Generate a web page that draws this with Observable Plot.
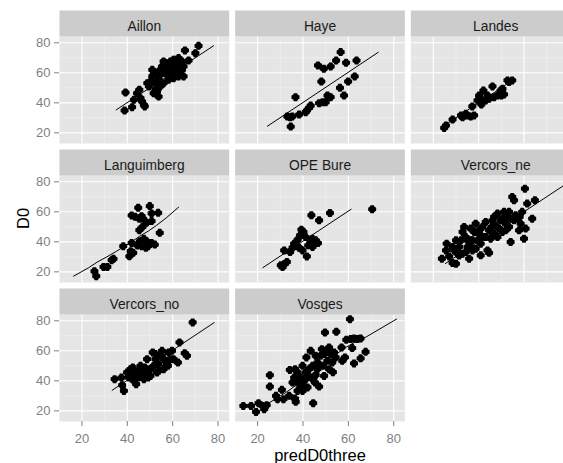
<!DOCTYPE html>
<html><head><meta charset="utf-8">
<script src="https://cdn.jsdelivr.net/npm/d3@7"></script>
<script src="https://cdn.jsdelivr.net/npm/@observablehq/plot@0.6"></script>
<style>
html,body{margin:0;padding:0;background:#fff;overflow:hidden;}
#chart svg{max-width:none !important;}
</style></head><body><div id="chart"></div>
<script>
const sites = ["Aillon","Haye","Landes","Languimberg","OPE Bure","Vercors_ne","Vercors_no","Vosges"];

const aillon = [[38.8,34.9],[42.1,37.1],[39.2,46.9],[45.3,48.7],[45.8,43.1],[47.3,38.7],[46.5,40.9],[47.7,37.6],[49.5,50.9],[51.0,62.0],[51.6,58.7],[52.4,48.7],[53.1,53.1],[53.8,56.4],[55.3,59.8],[56.8,66.4],[57.5,62.0],[56.0,53.1],[58.2,57.6],[59.0,67.6],[59.7,64.2],[60.4,68.7],[61.1,60.9],[61.9,66.4],[62.6,63.1],[63.4,58.7],[64.1,67.6],[64.8,64.2],[62.6,57.6],[60.4,56.4],[58.2,55.3],[54.5,50.9],[51.6,46.4],[53.1,47.6],[48.8,53.1],[50.2,54.2],[56.8,59.8],[55.3,64.2],[58.2,63.1],[59.7,58.7],[61.1,68.7],[65.4,74.9],[67.0,68.2],[70.0,73.1],[71.4,78.0],[44.3,46.4],[51.0,57.6],[53.8,60.9],[56.0,67.6],[62.6,69.8],[64.1,62.0],[64.8,57.6],[52.4,53.1],[53.8,44.2],[42.9,42.0]];
const haye = [[34.6,24.2],[33.1,30.9],[35.3,30.9],[36.7,43.8],[38.3,32.2],[41.2,33.8],[42.7,36.7],[43.4,38.2],[47.1,39.8],[48.6,40.4],[50.0,40.4],[50.8,44.9],[52.2,43.8],[48.1,54.2],[46.6,64.9],[49.2,62.7],[52.2,64.2],[54.6,68.2],[56.6,73.8],[59.0,66.7],[63.6,68.2],[59.9,54.2],[62.8,57.6],[56.3,50.0],[58.1,44.9],[34.3,30.4],[41.7,34.9]];
const landes = [[24.8,23.3],[25.6,24.9],[28.5,28.9],[32.9,30.4],[33.6,31.6],[35.1,31.6],[36.5,30.9],[38.0,31.6],[34.3,32.7],[37.2,37.6],[39.5,41.6],[40.2,44.9],[41.2,38.9],[42.1,48.2],[43.1,41.6],[43.9,44.9],[46.1,50.9],[46.8,43.8],[48.3,44.9],[49.7,48.2],[50.0,44.9],[51.2,45.6],[52.7,54.9],[53.4,53.8],[54.8,54.9],[50.5,49.3],[44.6,42.7],[32.2,31.6],[41.7,41.6]];
const languimberg = [[25.5,20.4],[26.3,17.1],[29.5,23.3],[31.2,23.3],[33.1,27.8],[33.9,28.7],[38.2,37.1],[40.9,30.4],[41.5,33.8],[42.6,32.7],[41.9,39.3],[41.9,57.6],[43.4,56.7],[44.8,62.7],[44.4,37.6],[45.5,40.4],[46.3,37.1],[47.3,42.0],[48.5,40.4],[48.2,36.0],[45.3,47.8],[46.7,50.0],[48.5,52.7],[47.0,55.3],[46.3,57.1],[49.9,63.8],[50.7,58.9],[50.7,53.8],[52.1,38.2],[53.6,59.3],[54.3,46.0],[45.3,55.3],[49.2,37.1],[50.7,39.3]];
const opeBure = [[31.0,23.2],[31.7,25.0],[32.9,26.6],[31.7,34.3],[35.4,36.1],[36.8,37.0],[37.6,41.4],[38.3,36.1],[39.3,48.1],[40.2,46.6],[41.2,43.2],[41.7,30.3],[42.3,37.7],[43.4,39.9],[44.2,36.6],[45.6,41.0],[46.6,39.2],[43.7,57.7],[47.1,54.3],[51.9,59.2],[70.5,61.7],[38.7,44.3],[36.1,38.8],[34.3,33.2],[39.8,34.3],[44.2,42.1],[30.2,24.4]];
const vercorsNe = [[23.8,28.8],[25.6,34.3],[25.9,38.8],[27.0,30.3],[28.5,25.9],[30.0,25.4],[29.2,34.3],[30.7,32.1],[31.4,36.6],[32.2,41.0],[32.9,46.6],[33.6,49.9],[34.3,43.2],[35.1,36.6],[35.8,28.8],[36.5,48.8],[36.5,41.0],[37.3,34.3],[38.0,46.6],[38.7,52.1],[39.5,41.0],[40.2,45.5],[40.9,38.8],[41.7,49.9],[42.4,43.2],[43.1,53.2],[43.9,34.3],[44.6,47.7],[45.3,42.1],[46.1,54.3],[46.8,45.5],[47.5,50.9],[48.3,58.8],[49.0,48.8],[49.7,54.3],[50.5,46.6],[51.2,60.0],[51.9,52.1],[52.6,56.6],[53.4,49.9],[54.1,39.9],[54.8,69.9],[55.6,67.7],[55.6,54.3],[56.3,57.7],[57.8,47.7],[58.5,52.1],[59.2,60.0],[60.0,42.1],[60.4,75.4],[60.7,48.8],[61.4,65.5],[63.6,55.4],[64.8,67.7],[30.0,41.0],[32.9,32.1],[38.7,35.4],[40.9,31.0],[44.6,32.7],[34.3,33.2],[43.1,43.2],[37.3,41.0],[48.3,43.2],[54.1,55.4],[41.7,43.2],[35.1,41.0],[46.8,56.6],[50.5,55.4],[31.4,30.9],[28.5,36.6],[36.5,36.6],[40.2,47.7],[45.8,49.9],[51.9,47.7],[53.4,60.0],[58.1,56.6]];
const vercorsNo = [[34.4,41.1],[37.7,37.1],[38.5,33.3],[37.4,42.2],[39.9,45.6],[41.4,47.8],[42.1,43.3],[42.9,40.0],[43.9,37.8],[44.8,42.2],[45.1,46.7],[46.5,44.4],[47.7,48.9],[48.7,54.4],[49.2,42.2],[50.2,47.8],[51.2,58.9],[51.6,50.0],[52.4,54.4],[53.1,45.6],[53.8,51.1],[55.0,56.7],[55.3,60.0],[56.0,47.8],[56.8,53.3],[57.9,50.0],[58.2,58.9],[59.7,60.0],[59.0,54.4],[62.3,52.2],[63.0,65.6],[65.3,58.4],[66.3,56.7],[68.8,78.9],[45.8,50.0],[47.3,41.1],[50.2,43.3],[53.8,46.7],[55.3,55.6],[42.4,48.9],[44.3,45.6],[40.7,42.2],[57.5,51.1],[52.4,57.8],[48.0,45.6],[60.4,54.4]];
const vosges = [[13.7,23.3],[17.1,23.3],[19.3,19.3],[20.4,25.1],[22.2,23.3],[22.9,21.1],[24.0,23.8],[25.4,43.8],[25.4,36.2],[28.1,30.0],[28.8,27.8],[30.7,34.0],[31.4,27.8],[33.9,30.0],[34.2,47.3],[36.5,28.2],[36.8,26.0],[36.1,42.2],[37.6,45.6],[38.3,38.9],[39.0,35.6],[39.8,41.1],[40.5,36.7],[42.0,35.6],[41.2,45.6],[42.7,47.8],[43.4,60.0],[44.5,25.1],[45.3,38.9],[45.6,43.8],[46.4,47.8],[46.4,52.2],[47.1,36.2],[47.8,56.7],[48.8,50.0],[49.3,43.3],[50.0,60.0],[49.7,72.2],[50.7,53.3],[51.5,47.8],[52.2,57.8],[52.9,52.2],[53.2,45.8],[53.7,58.9],[54.4,55.6],[54.7,72.7],[57.0,62.2],[57.3,53.3],[58.5,55.6],[59.1,67.3],[60.7,81.1],[61.0,67.8],[62.5,68.2],[63.9,67.8],[65.4,68.2],[61.7,61.8],[62.5,51.6],[65.4,55.0],[67.6,59.3],[41.5,55.6],[39.8,50.0],[37.6,38.9],[35.4,38.9],[36.5,47.8],[44.2,50.0],[45.6,56.7],[49.3,57.8],[41.2,41.1],[44.2,41.1],[37.6,33.3],[39.8,33.3],[48.3,61.1],[51.5,62.2],[39.0,42.2],[42.4,43.3]];

const aillonLine = [[35.1,35.3],[78.0,78.0]];
const hayeLine = [[24.3,24.4],[73.2,73.7]];
const landesLine = [[24.4,24.4],[55.2,55.2]];
const languimbergLine = [[16.3,17.1],[22.9,22.7],[26.6,26.4],[31.0,30.0],[35.3,33.8],[41.2,39.3],[45.5,43.8],[49.2,47.1],[52.8,50.9],[57.2,56.0],[62.6,63.1]];
const opeBureLine = [[22.3,22.8],[61.2,61.7]];
const vercorsNeLine = [[25.3,25.5],[80.0,80.0]];
const vercorsNoLine = [[33.3,33.7],[78.3,78.8]];
const vosgesLine = [[22.9,23.3],[32.4,32.2],[39.8,40.0],[45.6,46.7],[51.5,54.4],[58.8,62.2],[64.7,67.3],[67.8,69.2],[81.2,81.1]];

const xTicks = [20,40,60,80];
const xMinor = [30,50,70];
const yTicks = [20,40,60,80];
const yMinor = [30,50,70];

const pointSets = [aillon, haye, landes, languimberg, opeBure, vercorsNe, vercorsNo, vosges];
const lineSets = [aillonLine, hayeLine, landesLine, languimbergLine, opeBureLine, vercorsNeLine, vercorsNoLine, vosgesLine];

const toRows = (sets) => sets.flatMap((arr, i) => arr.map(([x, y]) => ({site: sites[i], col: i % 3, row: Math.floor(i / 3), x, y})));
const points = toRows(pointSets);
const lines = toRows(lineSets);
const strips = sites.map((s, i) => ({site: s, col: i % 3, row: Math.floor(i / 3)}));

// x axis only under the panels of the last row
const lastRow = Math.floor((sites.length - 1) / 3);
const bottomCols = strips.filter(d => d.row === lastRow).map(d => d.col);
const xAxisTicks = bottomCols.flatMap(col => xTicks.map(t => ({col, row: lastRow, x: t})));

// filled blob symbol similar to R's low-res filled circle
const blob = {
  draw(ctx, size) {
    const s = Math.sqrt(size / Math.PI) / 4;
    const p = [[-1.6,-4],[1.6,-4],[2.4,-2.4],[4,-1.6],[4,1.6],[2.4,2.4],[1.6,4],[-1.6,4],[-2.4,2.4],[-4,1.6],[-4,-1.6],[-2.4,-2.4]];
    ctx.moveTo(p[0][0] * s, p[0][1] * s);
    for (let k = 1; k < p.length; k++) ctx.lineTo(p[k][0] * s, p[k][1] * s);
    ctx.closePath();
  }
};

const font = "'Liberation Sans', Arial, Helvetica, sans-serif";

const chart = Plot.plot({
  width: 580,
  height: 463,
  marginLeft: 59,
  marginRight: 0,
  marginTop: 36,
  marginBottom: 42,
  style: {fontFamily: font, background: "#fff", maxWidth: "none", overflow: "visible"},
  fx: {domain: [0, 1, 2], paddingInner: 6 / 176, paddingOuter: 0, round: false, axis: null},
  fy: {domain: [0, 1, 2], paddingInner: 32 / 139, paddingOuter: 0, round: false, axis: null},
  x: {domain: [10.1, 84.9], axis: null},
  y: {domain: [12.9, 84.2], axis: null},
  marks: [
    Plot.frame({fill: "#E5E5E5", stroke: null}),
    Plot.gridX({ticks: xMinor, stroke: "#F2F2F2", strokeOpacity: 1, strokeWidth: 0.6}),
    Plot.gridY({ticks: yMinor, stroke: "#F2F2F2", strokeOpacity: 1, strokeWidth: 0.6}),
    Plot.gridX({ticks: xTicks, stroke: "#FFFFFF", strokeOpacity: 1, strokeWidth: 1.1}),
    Plot.gridY({ticks: yTicks, stroke: "#FFFFFF", strokeOpacity: 1, strokeWidth: 1.1}),
    Plot.frame({fill: "#CCCCCC", stroke: null, insetTop: -26, insetBottom: 107}),
    Plot.text(strips, {fx: "col", fy: "row", text: "site", frameAnchor: "top", dy: -5.5, lineAnchor: "bottom", fontSize: 13.8, fill: "#1A1A1A"}),
    Plot.dot(points, {x: "x", y: "y", fx: "col", fy: "row", r: 4, fill: "black", stroke: null, symbol: blob}),
    Plot.line(lines, {x: "x", y: "y", z: "site", fx: "col", fy: "row", stroke: "black", strokeWidth: 1}),
    Plot.tickX(xAxisTicks, {x: "x", fx: "col", fy: "row", stroke: "#7F7F7F", strokeWidth: 1, insetTop: 107, insetBottom: -5}),
    Plot.text(xAxisTicks, {x: "x", fx: "col", fy: "row", text: d => String(d.x), frameAnchor: "bottom", dy: 12.5, lineAnchor: "top", fontSize: 13, fill: "#7F7F7F"}),
    Plot.axisY({ticks: yTicks, facetAnchor: "left", tickSize: 5, tickPadding: 4, fontSize: 13, color: "#7F7F7F", label: null}),
    Plot.text(["predD0three"], {text: d => d, facet: "super", frameAnchor: "bottom", dy: 39.4, lineAnchor: "bottom", fontSize: 16.5, fill: "black"}),
    Plot.text(["D0"], {text: d => d, facet: "super", frameAnchor: "left", dx: -35.5, rotate: -90, fontSize: 16.5, fill: "black"})
  ]
});
document.getElementById("chart").appendChild(chart);
</script>
</body></html>
